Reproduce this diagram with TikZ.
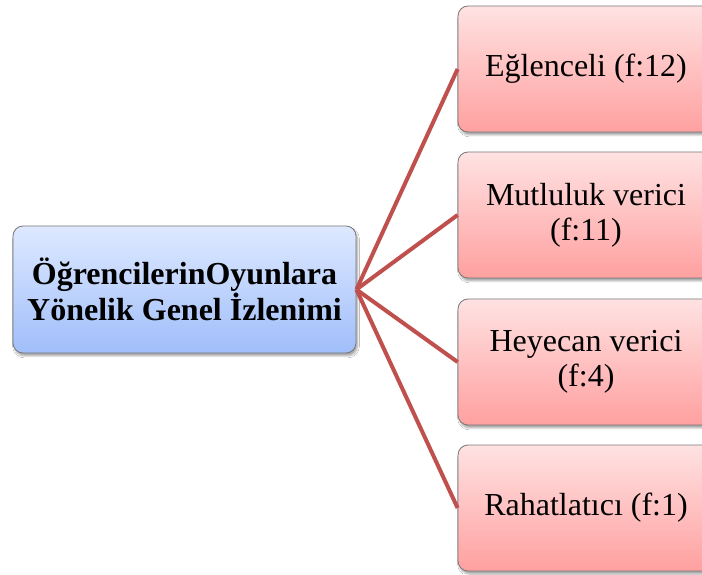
\documentclass[tikz,border=0pt]{standalone}
\usepackage{fontspec}
\setmainfont{Liberation Serif}
\usetikzlibrary{shadows.blur}
\definecolor{linkred}{RGB}{192,80,77}
\definecolor{boxgray}{RGB}{120,120,120}
\definecolor{bluetop}{RGB}{222,233,255}
\definecolor{bluebot}{RGB}{160,190,250}
\definecolor{pinktop}{RGB}{255,226,226}
\definecolor{pinkbot}{RGB}{255,160,160}
\tikzset{
  basebox/.style={draw=boxgray, line width=0.8pt, rounded corners=10pt, align=center,
    blur shadow={shadow xshift=1.5pt, shadow yshift=-3pt, shadow blur steps=6, shadow opacity=35},
    font=\fontsize{32}{35}\selectfont, inner sep=0pt},
  rootbox/.style={basebox, top color=bluetop, bottom color=bluebot,
    minimum width=343pt, minimum height=127pt, font=\fontsize{32}{34}\selectfont\bfseries},
  leafbox/.style={basebox, top color=pinktop, bottom color=pinkbot,
    minimum width=256pt, minimum height=126pt},
  link/.style={draw=linkred, line width=4pt}
}
\begin{document}
\begin{tikzpicture}[x=1pt,y=1pt]
\clip (0,0) rectangle (702,574);
\useasboundingbox (0,0) rectangle (702,574);
\fill[white] (0,0) rectangle (702,574);
\node[rootbox] (root) at (184.5,284.5) {ÖğrencilerinOyunlara\\Yönelik Genel İzlenimi};
\node[leafbox] (a) at (586,505) {Eğlenceli (f:12)};
\node[leafbox] (b) at (586,359) {Mutluluk verici\\(f:11)};
\node[leafbox] (c) at (586,212) {Heyecan verici\\(f:4)};
\node[leafbox] (d) at (586,66) {Rahatlatıcı (f:1)};
\begin{scope}[on background layer/.try]
\end{scope}
\draw[link] (root.east) -- (a.west);
\draw[link] (root.east) -- (b.west);
\draw[link] (root.east) -- (c.west);
\draw[link] (root.east) -- (d.west);
\end{tikzpicture}
\end{document}
